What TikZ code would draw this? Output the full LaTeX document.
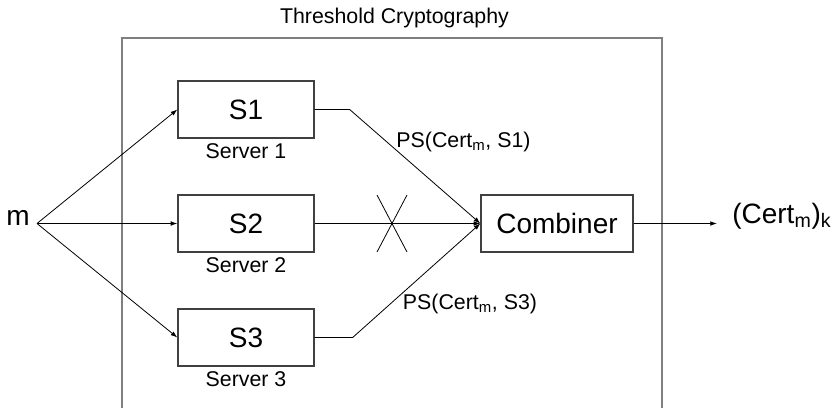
\documentclass[tikz,border=0pt]{standalone}
\usepackage{fontspec}
\setmainfont{Liberation Sans}
\usetikzlibrary{arrows.meta,positioning}
\definecolor{frameline}{HTML}{7F7F7F}
\definecolor{boxline}{HTML}{404040}
\begin{document}
\begin{tikzpicture}[x=.75pt,y=-.75pt,font=\fontsize{16}{19}\selectfont,
  srvbox/.style={draw=boxline,line width=1pt,minimum width=102pt,minimum height=42.75pt,font=\fontsize{21}{25}\selectfont},
  arr/.style={-{Latex[length=5pt,width=3.5pt]},line width=.6pt}]
\useasboundingbox (0,0) rectangle (833,408);
% Frame of the threshold scheme, open at the bottom.
\draw[frameline,line width=1pt] (122,408) -- (122,38) -- (662,38) -- (662,408);
\node[anchor=base] (title) at (394.5,23) {Threshold Cryptography};
\node[anchor=base,font=\fontsize{21}{25}\selectfont] (m) at (18,225) {m};
\coordinate (fork) at (37,223.5);
\node[srvbox,minimum width=114pt] (comb) at (557,223.5) {Combiner};
\foreach \i/\y in {1/109.5,2/223.5,3/337.5}{
  \node[srvbox] (s\i) at (246,\y) {S\i};
  \node[below=0pt of s\i] (lab\i) {Server \i};
  \draw[arr] (fork) -- (s\i.west);
}
% Partial signatures go to the combiner; S2 is cut off.
\draw[arr] (s1.east) -- ++(35,0) -- (comb.west);
\draw[arr] (s2.east) -- (comb.west);
\draw[arr] (s3.east) -- ++(38,0) -- (comb.west);
\coordinate (cut) at (392,223.5);
\draw[line width=.6pt] (cut) ++(-15,-28.5) -- ++(30,57) (cut) ++(15,-28.5) -- ++(-30,57);
\node[anchor=base] (ps1) at (463.5,147) {PS(Cert\textsubscript{m}, S1)};
\node[anchor=base] (ps3) at (470,309) {PS(Cert\textsubscript{m}, S3)};
\node[anchor=base west,font=\fontsize{21}{25}\selectfont] (out) at (727.6,223) {(Cert\textsubscript{m})\textsubscript{k}};
\draw[arr,shorten >=8pt] (comb.east) -- (comb.east -| out.west);
\end{tikzpicture}
\end{document}
